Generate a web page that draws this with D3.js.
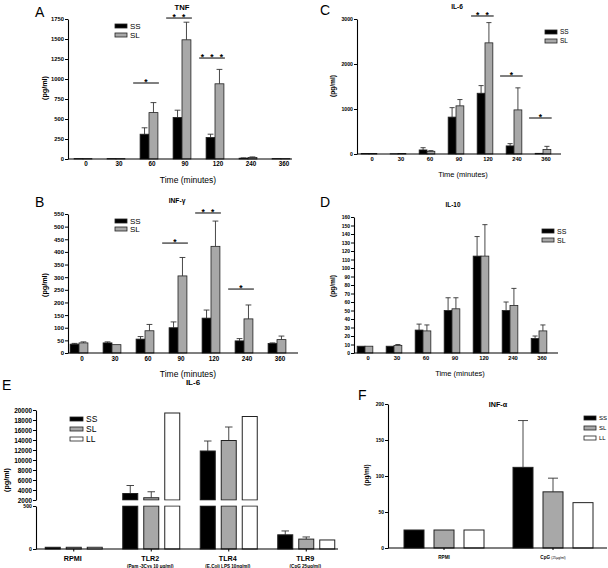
<!DOCTYPE html>
<html>
<head>
<meta charset="utf-8">
<script src="https://cdn.jsdelivr.net/npm/d3@7"></script>
<style>
  body { margin: 0; background: #fff; }
  svg text { font-family: "Liberation Sans", Arial, sans-serif; }
</style>
</head>
<body>
<svg id="fig" width="608" height="568"></svg>
<script>
// ---- data ----
var times = ["0", "30", "60", "90", "120", "240", "360"];

var tnfSS  = [5, 5, 310, 520, 270, 10, 5];
var tnfSSe = [0, 0, 80, 90, 40, 4, 0];
var tnfSL  = [5, 5, 580, 1490, 940, 20, 5];
var tnfSLe = [0, 0, 125, 220, 180, 6, 0];
var tnfSig = [{t: "60", v: 950, s: 1}, {t: "90", v: 1762, s: 2}, {t: "120", v: 1262, s: 3}];

var ifngSS  = [35, 40, 55, 100, 138, 48, 38];
var ifngSSe = [3, 4, 10, 23, 32, 9, 2];
var ifngSL  = [40, 33, 88, 305, 422, 135, 53];
var ifngSLe = [4, 0, 25, 73, 100, 55, 14];
var ifngSig = [{t: "90", v: 435, s: 1}, {t: "120", v: 554, s: 2}, {t: "240", v: 253, s: 1}];

var il6tSS  = [10, 5, 90, 820, 1350, 180, 15];
var il6tSSe = [0, 0, 50, 210, 170, 50, 0];
var il6tSL  = [10, 10, 60, 1070, 2470, 980, 100];
var il6tSLe = [0, 0, 15, 140, 450, 490, 70];
var il6tSig = [{t: "120", v: 3067, s: 2}, {t: "240", v: 1733, s: 1}, {t: "360", v: 800, s: 1}];

var il10SS  = [8, 8, 27, 50, 114, 50, 17];
var il10SSe = [0, 0, 7, 15, 23, 10, 3];
var il10SL  = [8, 9, 26, 52, 114, 56, 26];
var il10SLe = [0, 1, 7, 13, 37, 20, 7];

var stimE    = ["RPMI", "TLR2", "TLR4", "TLR9"];
var stimSubE = ["", "(Pam -3Cys 10  \u03bcg/ml)", "(E.Coli LPS 10ng/ml)", "(CpG 25\u03bcg/ml)"];
var il6SS  = [20, 3300, 11800, 165];
var il6SSe = [0, 1600, 2000, 45];
var il6SL  = [20, 2450, 13900, 115];
var il6SLe = [0, 1200, 2700, 25];
var il6LL  = [20, 19400, 18700, 105];
var il6LLe = [0, 0, 0, 0];
var eTicksTop = [2000, 4000, 6000, 8000, 10000, 12000, 14000, 16000, 18000, 20000];
var eTicksBot = [0, 500];

var stimF  = ["RPMI", "CpG"];
var ifnaSS  = [25, 112];
var ifnaSSe = [0, 65];
var ifnaSL  = [25, 78];
var ifnaSLe = [0, 19];
var ifnaLL  = [25, 63];
var ifnaLLe = [0, 0];

var groups2 = ["SS", "SL"];
var groups3 = ["SS", "SL", "LL"];

// ---- drawing ----
var svg = d3.select("#fig");
var fills = {SS: "#000", SL: "#a8a8a8", LL: "#fff"};
var plain = d3.format("d");

function txt(g, x, y, s, fs, opts) {
  opts = opts || {};
  var t = g.append("text")
    .attr("x", x).attr("y", y)
    .attr("fill", "#000")
    .attr("font-size", fs)
    .attr("font-weight", opts.bold ? "bold" : "normal")
    .attr("text-anchor", opts.anchor || "middle")
    .text(s);
  if (opts.rotate) t.attr("transform", "rotate(-90," + x + "," + y + ")");
  return t;
}

function errBar(g, cx, ya, yb, cw) {
  g.append("line").attr("x1", cx).attr("x2", cx).attr("y1", ya).attr("y2", yb)
    .attr("stroke", "#333").attr("stroke-width", 0.9);
  g.append("line").attr("x1", cx - cw / 2).attr("x2", cx + cw / 2).attr("y1", yb).attr("y2", yb)
    .attr("stroke", "#333").attr("stroke-width", 0.9);
}

function legend(g, x, ys, names, sw, fs) {
  names.forEach(function(n, i) {
    g.append("rect").attr("x", x).attr("y", ys[i] - 2).attr("width", sw).attr("height", 4)
      .attr("fill", fills[n]).attr("stroke", "#222").attr("stroke-width", 0.8);
    txt(g, x + sw + 3, ys[i] + fs * 0.36, n, fs, {anchor: "start"});
  });
}

function styleAxis(a, fs) {
  a.selectAll("text").attr("font-size", fs).attr("font-weight", "bold").attr("fill", "#000");
  a.selectAll("line").attr("stroke", "#000");
  a.select(".domain").attr("stroke", "#000").attr("stroke-width", 1.1);
}

function drawTimePanel(c) {
  var g = svg.append("g");
  var x = d3.scaleBand().domain(times).range(c.xr);
  var y = d3.scaleLinear().domain([0, c.ymax]).range(c.yr);
  var step = x.step(), bw = step * 0.27;
  var series = [
    {name: "SS", v: c.ss, e: c.sse, off: -bw},
    {name: "SL", v: c.sl, e: c.sle, off: 0}
  ];
  series.forEach(function(s) {
    times.forEach(function(t, i) {
      var x0 = x(t) + step / 2 + s.off;
      if (s.e[i] > 0) errBar(g, x0 + bw / 2, y(s.v[i]), y(s.v[i] + s.e[i]), bw * 0.65);
      g.append("rect").attr("x", x0).attr("y", y(s.v[i]))
        .attr("width", bw).attr("height", y(0) - y(s.v[i]))
        .attr("fill", fills[s.name]).attr("stroke", "#222").attr("stroke-width", 0.8);
    });
  });

  // y axis
  var ya = g.append("g").attr("transform", "translate(" + c.ax + ",0)")
    .call(d3.axisLeft(y).tickValues(c.ticks).tickFormat(plain)
      .tickSize(3).tickSizeOuter(0).tickPadding(1));
  styleAxis(ya, c.tickFs);

  // x axis line + labels
  g.append("line").attr("x1", c.ax).attr("x2", c.xend).attr("y1", y(0)).attr("y2", y(0))
    .attr("stroke", "#000").attr("stroke-width", 1.1);
  times.forEach(function(t) {
    txt(g, x(t) + step / 2 + 3, c.xLabY, t, c.xFs, {bold: true});
  });

  // significance
  (c.sig || []).forEach(function(s) {
    var cx = x(s.t) + step / 2;
    var x1 = cx - step * 0.48, x2 = cx + step * 0.3;
    var ly = y(s.v);
    g.append("line").attr("x1", x1).attr("x2", x2).attr("y1", ly).attr("y2", ly)
      .attr("stroke", "#000").attr("stroke-width", 1);
    var mid = (x1 + x2) / 2;
    for (var k = 0; k < s.s; k++) {
      txt(g, mid + (k - (s.s - 1) / 2) * 9.5, ly + 2, "*", 8.5, {bold: true});
    }
  });

  txt(g, c.titleX, c.titleY, c.title, c.titleFs, {bold: true});
  txt(g, c.letterX, c.letterY, c.letter, 14, {anchor: "start"});
  txt(g, c.ylabX, c.ylabY, "(pg/ml)", c.ylabFs, {bold: true, rotate: true});
  txt(g, c.timeX, c.timeY, "Time (minutes)", c.timeFs);
  legend(g, c.legX, c.legY, groups2, 12, c.legFs);
}

drawTimePanel({
  ss: tnfSS, sse: tnfSSe, sl: tnfSL, sle: tnfSLe, sig: tnfSig,
  ymax: 1750, ticks: d3.range(0, 1751, 250),
  xr: [66.5, 297.5], yr: [159, 19], ax: 68, xend: 292,
  tickFs: 5.8, xFs: 6.3, xLabY: 166,
  title: "TNF", titleX: 182, titleY: 9.5, titleFs: 7.7,
  letter: "A", letterX: 35, letterY: 17,
  ylabX: 47, ylabY: 88, ylabFs: 7.2,
  timeX: 188, timeY: 183, timeFs: 8.5,
  legX: 115, legY: [26, 35], legFs: 8
});

drawTimePanel({
  ss: ifngSS, sse: ifngSSe, sl: ifngSL, sle: ifngSLe, sig: ifngSig,
  ymax: 550, ticks: d3.range(0, 551, 50),
  xr: [62.5, 293.5], yr: [353, 214], ax: 68, xend: 298,
  tickFs: 6, xFs: 6.3, xLabY: 361,
  title: "INF-\u03b3", titleX: 177, titleY: 203, titleFs: 6.7,
  letter: "B", letterX: 35, letterY: 207,
  ylabX: 47, ylabY: 285, ylabFs: 7.2,
  timeX: 188, timeY: 377, timeFs: 8.5,
  legX: 115, legY: [221, 229], legFs: 8
});

drawTimePanel({
  ss: il6tSS, sse: il6tSSe, sl: il6tSL, sle: il6tSLe, sig: il6tSig,
  ymax: 3000, ticks: [0, 1000, 2000, 3000],
  xr: [354.5, 557.5], yr: [154, 19], ax: 357, xend: 561,
  tickFs: 5.2, xFs: 5.8, xLabY: 161,
  title: "IL-6", titleX: 457, titleY: 9, titleFs: 6.6,
  letter: "C", letterX: 320, letterY: 15,
  ylabX: 335, ylabY: 86, ylabFs: 6.6,
  timeX: 463, timeY: 177, timeFs: 7.5,
  legX: 545, legY: [32, 41], legFs: 6.5
});

drawTimePanel({
  ss: il10SS, sse: il10SSe, sl: il10SL, sle: il10SLe, sig: [],
  ymax: 160, ticks: d3.range(0, 161, 10),
  xr: [350.5, 553.5], yr: [353, 217], ax: 354, xend: 558,
  tickFs: 5, xFs: 5.8, xLabY: 360,
  title: "IL-10", titleX: 453, titleY: 207, titleFs: 6.4,
  letter: "D", letterX: 320, letterY: 207,
  ylabX: 335, ylabY: 286, ylabFs: 6.6,
  timeX: 460, timeY: 376, timeFs: 7.5,
  legX: 542, legY: [231, 240], legFs: 7
});

// ---- panel E: IL-6 with broken axis ----
(function() {
  var g = svg.append("g");
  var x = d3.scaleBand().domain(stimE).range([35, 345]);
  var yTop = d3.scaleLinear().domain([2000, 20000]).range([500, 410]);
  var yBot = d3.scaleLinear().domain([0, 500]).range([549, 506]);
  var step = x.step(), bw = 15, gap = 6;
  var yv = function(v) { return v > 500 ? (v >= 2000 ? yTop(v) : yTop(2000)) : yBot(v); };
  var series = [
    {name: "SS", v: il6SS, e: il6SSe, k: -1},
    {name: "SL", v: il6SL, e: il6SLe, k: 0},
    {name: "LL", v: il6LL, e: il6LLe, k: 1}
  ];
  series.forEach(function(s) {
    stimE.forEach(function(c, i) {
      var x0 = x(c) + step / 2 + s.k * (bw + gap) - bw / 2;
      var v = s.v[i];
      if (s.e[i] > 0) errBar(g, x0 + bw / 2, yv(v), yv(v + s.e[i]), bw * 0.5);
      if (v > 500) {
        g.append("rect").attr("x", x0).attr("y", yBot(500)).attr("width", bw)
          .attr("height", yBot(0) - yBot(500))
          .attr("fill", fills[s.name]).attr("stroke", "#222").attr("stroke-width", 1);
        g.append("rect").attr("x", x0).attr("y", yTop(v)).attr("width", bw)
          .attr("height", yTop(2000) - yTop(v))
          .attr("fill", fills[s.name]).attr("stroke", "#222").attr("stroke-width", 1);
      } else {
        g.append("rect").attr("x", x0).attr("y", yBot(v)).attr("width", bw)
          .attr("height", yBot(0) - yBot(v))
          .attr("fill", fills[s.name]).attr("stroke", "#222").attr("stroke-width", 1);
      }
    });
  });
  // break gap
  g.append("rect").attr("x", 37).attr("y", yTop(2000) + 0.6).attr("width", 300)
    .attr("height", yBot(500) - yTop(2000) - 1.2).attr("fill", "#fff");

  var a1 = g.append("g").attr("transform", "translate(36,0)")
    .call(d3.axisLeft(yTop).tickValues(eTicksTop).tickFormat(plain)
      .tickSize(3).tickSizeOuter(0).tickPadding(1));
  styleAxis(a1, 6.4);
  var a2 = g.append("g").attr("transform", "translate(36,0)")
    .call(d3.axisLeft(yBot).tickValues(eTicksBot).tickFormat(plain)
      .tickSize(3).tickSizeOuter(0).tickPadding(1));
  styleAxis(a2, 5.2);
  g.append("line").attr("x1", 36).attr("x2", 338).attr("y1", yBot(0)).attr("y2", yBot(0))
    .attr("stroke", "#000").attr("stroke-width", 1.1);
  stimE.forEach(function(c, i) {
    var cx = x(c) + step / 2;
    g.append("line").attr("x1", cx).attr("x2", cx).attr("y1", yBot(0)).attr("y2", yBot(0) + 2.5)
      .attr("stroke", "#000");
    txt(g, cx - 1, 561, c, 7.2, {bold: true});
    if (stimSubE[i]) txt(g, cx - 1, 568, stimSubE[i], 4.6, {bold: true});
  });
  txt(g, 193, 385, "IL-6", 8, {bold: true});
  txt(g, 2, 390, "E", 14, {anchor: "start"});
  txt(g, 9, 480, "(pg/ml)", 7.2, {bold: true, rotate: true});
  legend(g, 70, [419, 429, 439], groups3, 13, 8.5);
})();

// ---- panel F: INF-alpha ----
(function() {
  var g = svg.append("g");
  var x = d3.scaleBand().domain(stimF).range([389.5, 607.5]);
  var y = d3.scaleLinear().domain([0, 200]).range([548, 404]);
  var step = x.step(), bw = 20, gap = 10;
  var series = [
    {name: "SS", v: ifnaSS, e: ifnaSSe, k: -1},
    {name: "SL", v: ifnaSL, e: ifnaSLe, k: 0},
    {name: "LL", v: ifnaLL, e: ifnaLLe, k: 1}
  ];
  series.forEach(function(s) {
    stimF.forEach(function(c, i) {
      var x0 = x(c) + step / 2 + s.k * (bw + gap) - bw / 2;
      if (s.e[i] > 0) errBar(g, x0 + bw / 2, y(s.v[i]), y(s.v[i] + s.e[i]), bw * 0.5);
      g.append("rect").attr("x", x0).attr("y", y(s.v[i])).attr("width", bw)
        .attr("height", y(0) - y(s.v[i]))
        .attr("fill", fills[s.name]).attr("stroke", "#222").attr("stroke-width", 1);
    });
  });
  var a = g.append("g").attr("transform", "translate(388,0)")
    .call(d3.axisLeft(y).tickValues([0, 50, 100, 150, 200]).tickFormat(plain)
      .tickSize(3).tickSizeOuter(0).tickPadding(1));
  styleAxis(a, 5);
  g.append("line").attr("x1", 388).attr("x2", 607).attr("y1", y(0)).attr("y2", y(0))
    .attr("stroke", "#000").attr("stroke-width", 1.1);
  stimF.forEach(function(c) {
    var cx = x(c) + step / 2;
    g.append("line").attr("x1", cx).attr("x2", cx).attr("y1", y(0)).attr("y2", y(0) + 2)
      .attr("stroke", "#000");
  });
  txt(g, x("RPMI") + step / 2, 559, "RPMI", 4.6, {bold: true});
  var t = txt(g, x("CpG") + step / 2, 559, "CpG ", 4.6, {bold: true});
  t.append("tspan").attr("font-size", 3.4).attr("font-weight", "normal").text("(25\u03bcg/ml)");
  txt(g, 498, 407, "INF-\u03b1", 7.2, {bold: true});
  txt(g, 358, 400, "F", 14, {anchor: "start"});
  txt(g, 369, 475, "(pg/ml)", 6.4, {bold: true, rotate: true});
  legend(g, 584, [418, 428, 438], groups3, 12, 6);
})();
</script>
</body>
</html>
